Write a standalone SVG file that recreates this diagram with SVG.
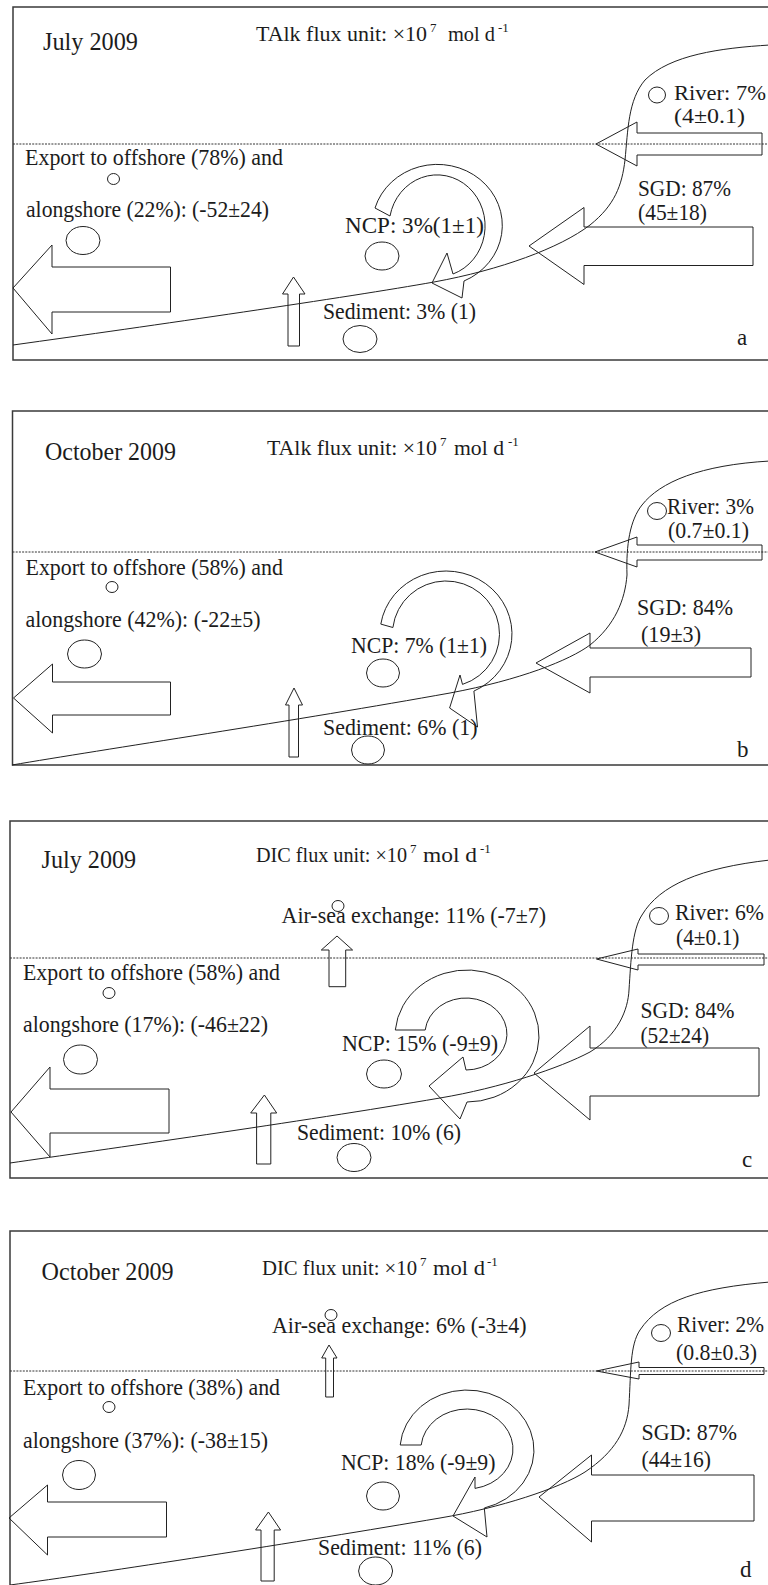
<svg xmlns="http://www.w3.org/2000/svg" width="768" height="1585" viewBox="0 0 768 1585">
<style>
.bg{fill:#ffffff}
.fr{fill:none;stroke:#3a3a3a;stroke-width:1.5}
.dl{fill:none;stroke:#333;stroke-width:1;stroke-dasharray:2 1.2}
.cv{fill:none;stroke:#222;stroke-width:1}
.sh{fill:none;stroke:#222;stroke-width:1}
text{font-family:"Liberation Serif","Times New Roman",serif;fill:#1c1c1c}
.t{font-size:23px}
.ts{font-size:21px}
.dt{font-size:25px}
.ti{font-size:22px}
.tj{font-size:20px}
.sp{font-size:13px}
</style>
<rect class="bg" x="0" y="0" width="768" height="1585"/>

<!-- ================= Panel a ================= -->
<g id="panel-a">
  <rect class="fr" x="13" y="7" width="790" height="353"/>
  <g id="a-connectors">
    <path class="dl" d="M13,144 H768"/>
    <path class="cv" d="M13,345 C150,326 350,297 434,282 C500,270 560,248 590,225 C615,205 622,185 625,160 C628,130 628,100 645,80 C670,55 720,48 770,45"/>
  </g>
  <g id="a-header">
    <text class="dt" x="43" y="50" textLength="95" lengthAdjust="spacingAndGlyphs">July 2009</text>
    <text class="ti" x="256" y="41" textLength="171" lengthAdjust="spacingAndGlyphs">TAlk flux unit: ×10</text>
    <text class="sp" x="430" y="32">7</text>
    <text class="ti" x="448" y="41" textLength="47" lengthAdjust="spacingAndGlyphs">mol d</text>
    <text class="sp" x="498" y="32">-1</text>
  </g>
  <g id="a-river">
    <ellipse class="sh" cx="657" cy="95" rx="8.5" ry="8"/>
    <text class="ts" x="674" y="100" textLength="92" lengthAdjust="spacingAndGlyphs">River: 7%</text>
    <text class="ts" x="674" y="123" textLength="71" lengthAdjust="spacingAndGlyphs">(4±0.1)</text>
    <polygon class="sh" points="596,144 637,122 637,133 762,133 762,155 637,155 637,166"/>
  </g>
  <g id="a-sgd">
    <text class="t" x="638" y="196" textLength="93" lengthAdjust="spacingAndGlyphs">SGD: 87%</text>
    <text class="t" x="638" y="220" textLength="69" lengthAdjust="spacingAndGlyphs">(45±18)</text>
    <polygon class="sh" points="529,246 584,207.5 584,227 753,227 753,265.5 584,265.5 584,284.5"/>
  </g>
  <g id="a-export">
    <text class="t" x="25" y="165" textLength="258" lengthAdjust="spacingAndGlyphs">Export to offshore (78%) and</text>
    <ellipse class="sh" cx="113.5" cy="179" rx="6" ry="5.5"/>
    <text class="t" x="26" y="217" textLength="243" lengthAdjust="spacingAndGlyphs">alongshore (22%): (-52±24)</text>
    <ellipse class="sh" cx="83" cy="240.5" rx="17" ry="14"/>
    <polygon class="sh" points="13,288 52,245 52,267 170.5,267 170.5,312 52,312 52,334"/>
  </g>
  <g id="a-ncp">
    <path class="sh" d="M375,208 A65,61 0 1 1 464,281 L462,298 L432,283 L447,253 L453,274 A48,51 0 1 0 390,216 Z"/>
    <text class="t" x="345" y="233" textLength="139" lengthAdjust="spacingAndGlyphs">NCP: 3%(1±1)</text>
    <ellipse class="sh" cx="382" cy="256" rx="17" ry="14"/>
  </g>
  <g id="a-sediment">
    <polygon class="sh" points="293.5,277 305,294 299.5,294 299.5,346 288,346 288,294 282.5,294"/>
    <text class="t" x="323" y="319" textLength="153" lengthAdjust="spacingAndGlyphs">Sediment: 3% (1)</text>
    <ellipse class="sh" cx="360" cy="339" rx="17" ry="13.5"/>
  </g>
  <text class="t" x="737" y="345">a</text>
</g>

<!-- ================= Panel b ================= -->
<g id="panel-b">
  <rect class="fr" x="12.5" y="411" width="790" height="354"/>
  <g id="b-connectors">
    <path class="dl" d="M12.5,552 H768"/>
    <path class="cv" d="M12,765 C100,750 300,720 450,693 C520,680 570,660 590,645 C615,625 625,600 627,575 C626,545 630,520 642,505 C660,482 700,465 770,461"/>
  </g>
  <g id="b-header">
    <text class="dt" x="45" y="460" textLength="131" lengthAdjust="spacingAndGlyphs">October 2009</text>
    <text class="ti" x="267" y="455" textLength="170" lengthAdjust="spacingAndGlyphs">TAlk flux unit: ×10</text>
    <text class="sp" x="440" y="446">7</text>
    <text class="ti" x="454" y="455" textLength="50" lengthAdjust="spacingAndGlyphs">mol d</text>
    <text class="sp" x="508" y="446">-1</text>
  </g>
  <g id="b-river">
    <ellipse class="sh" cx="657" cy="511" rx="9.5" ry="8.5"/>
    <text class="t" x="667" y="514" textLength="87" lengthAdjust="spacingAndGlyphs">River: 3%</text>
    <text class="t" x="668" y="538" textLength="81" lengthAdjust="spacingAndGlyphs">(0.7±0.1)</text>
    <polygon class="sh" points="595,552 637,537 637,545 762,545 762,560 637,560 637,567"/>
  </g>
  <g id="b-sgd">
    <text class="t" x="637" y="615" textLength="96" lengthAdjust="spacingAndGlyphs">SGD: 84%</text>
    <text class="t" x="641" y="642" textLength="60" lengthAdjust="spacingAndGlyphs">(19±3)</text>
    <polygon class="sh" points="536,663 590,633 590,648 751,648 751,677 590,677 590,693"/>
  </g>
  <g id="b-export">
    <text class="t" x="25.5" y="575" textLength="257.5" lengthAdjust="spacingAndGlyphs">Export to offshore (58%) and</text>
    <ellipse class="sh" cx="112" cy="587" rx="6" ry="5.5"/>
    <text class="t" x="25.5" y="627" textLength="235" lengthAdjust="spacingAndGlyphs">alongshore (42%): (-22±5)</text>
    <ellipse class="sh" cx="84.5" cy="654" rx="17" ry="14"/>
    <polygon class="sh" points="13.5,698 52.5,664 52.5,682 170.5,682 170.5,715 52.5,715 52.5,733"/>
  </g>
  <g id="b-ncp">
    <path class="sh" d="M380.8,624.1 A66,63 0 1 1 473.9,691.1 L477.5,727 L449.6,708 L460,675 L462.5,684.4 A53.5,53 0 1 0 392.9,627.5 Z"/>
    <text class="t" x="351" y="653" textLength="136" lengthAdjust="spacingAndGlyphs">NCP: 7% (1±1)</text>
    <ellipse class="sh" cx="383" cy="673" rx="16.5" ry="14"/>
  </g>
  <g id="b-sediment">
    <polygon class="sh" points="294,688 302.5,705 298.5,705 298.5,757 289,757 289,705 285.5,705"/>
    <text class="t" x="323" y="735" textLength="154.5" lengthAdjust="spacingAndGlyphs">Sediment: 6% (1)</text>
    <ellipse class="sh" cx="368" cy="750" rx="16.5" ry="14"/>
  </g>
  <text class="t" x="737" y="757">b</text>
</g>

<!-- ================= Panel c ================= -->
<g id="panel-c">
  <rect class="fr" x="10" y="821" width="790" height="357"/>
  <g id="c-connectors">
    <path class="dl" d="M10,958 H768"/>
    <path class="cv" d="M10,1163 C100,1150 300,1122 440,1098 C500,1088 560,1068 590,1052 C618,1035 628,1010 629,990 C631,960 632,930 642,915 C660,885 700,868 770,860"/>
  </g>
  <g id="c-header">
    <text class="dt" x="41.6" y="868" textLength="94.5" lengthAdjust="spacingAndGlyphs">July 2009</text>
    <text class="tj" x="256" y="862" textLength="151" lengthAdjust="spacingAndGlyphs">DIC flux unit: ×10</text>
    <text class="sp" x="410" y="853">7</text>
    <text class="tj" x="423" y="862" textLength="54" lengthAdjust="spacingAndGlyphs">mol d</text>
    <text class="sp" x="480" y="853">-1</text>
  </g>
  <g id="c-airsea">
    <ellipse class="sh" cx="338" cy="906" rx="6" ry="5.5"/>
    <text class="t" x="281.6" y="923" textLength="264.5" lengthAdjust="spacingAndGlyphs">Air-sea exchange: 11% (-7±7)</text>
    <polygon class="sh" points="337,936 352.6,950 345.7,950 345.7,986.7 329,986.7 329,950 321.3,950"/>
  </g>
  <g id="c-river">
    <ellipse class="sh" cx="659" cy="916" rx="9.5" ry="8.5"/>
    <text class="t" x="675" y="920" textLength="89" lengthAdjust="spacingAndGlyphs">River: 6%</text>
    <text class="t" x="676" y="945" textLength="63.5" lengthAdjust="spacingAndGlyphs">(4±0.1)</text>
    <polygon class="sh" points="596.5,959 638,949 638,954 764,954 764,965 638,965 638,970"/>
  </g>
  <g id="c-sgd">
    <text class="t" x="640.5" y="1018" textLength="94" lengthAdjust="spacingAndGlyphs">SGD: 84%</text>
    <text class="t" x="640.5" y="1043" textLength="68.5" lengthAdjust="spacingAndGlyphs">(52±24)</text>
    <polygon class="sh" points="534,1073 590,1026 590,1048 759,1048 759,1096 590,1096 590,1120"/>
  </g>
  <g id="c-export">
    <text class="t" x="23" y="980" textLength="257" lengthAdjust="spacingAndGlyphs">Export to offshore (58%) and</text>
    <ellipse class="sh" cx="109" cy="993" rx="6" ry="5.5"/>
    <text class="t" x="23" y="1032" textLength="245" lengthAdjust="spacingAndGlyphs">alongshore (17%): (-46±22)</text>
    <ellipse class="sh" cx="80.5" cy="1059.5" rx="17" ry="14.5"/>
    <polygon class="sh" points="11,1112 50,1067 50,1089 169,1089 169,1133 50,1133 50,1157"/>
  </g>
  <g id="c-ncp">
    <path class="sh" d="M395.3,1030 A72,66 0 1 1 467,1102 L460,1119 L429,1086 L463,1057 L466,1070 A41,36 0 1 0 425.2,1030 Z"/>
    <text class="t" x="342" y="1051" textLength="156" lengthAdjust="spacingAndGlyphs">NCP: 15% (-9±9)</text>
    <ellipse class="sh" cx="384" cy="1074" rx="17.5" ry="14"/>
  </g>
  <g id="c-sediment">
    <polygon class="sh" points="264.4,1095 276.7,1113 270.8,1113 270.8,1164 256.6,1164 256.6,1113 250.7,1113"/>
    <text class="t" x="297" y="1140" textLength="164" lengthAdjust="spacingAndGlyphs">Sediment: 10% (6)</text>
    <ellipse class="sh" cx="354" cy="1157.5" rx="17" ry="14"/>
  </g>
  <text class="t" x="742" y="1167">c</text>
</g>

<!-- ================= Panel d ================= -->
<g id="panel-d">
  <rect class="fr" x="10" y="1231" width="790" height="400"/>
  <g id="d-connectors">
    <path class="dl" d="M10,1371 H768"/>
    <path class="cv" d="M10,1585 C100,1573 300,1542 440,1518 C500,1508 560,1488 585,1472 C615,1452 627,1430 629,1405 C631,1370 630,1345 640,1330 C660,1300 700,1288 770,1282"/>
  </g>
  <g id="d-header">
    <text class="dt" x="41.6" y="1280" textLength="132" lengthAdjust="spacingAndGlyphs">October 2009</text>
    <text class="tj" x="262" y="1275" textLength="155" lengthAdjust="spacingAndGlyphs">DIC flux unit: ×10</text>
    <text class="sp" x="420" y="1266">7</text>
    <text class="tj" x="433" y="1275" textLength="52" lengthAdjust="spacingAndGlyphs">mol d</text>
    <text class="sp" x="487" y="1266">-1</text>
  </g>
  <g id="d-airsea">
    <ellipse class="sh" cx="331" cy="1315" rx="6" ry="5.5"/>
    <text class="t" x="272" y="1333" textLength="254.5" lengthAdjust="spacingAndGlyphs">Air-sea exchange: 6% (-3±4)</text>
    <polygon class="sh" points="329,1345 337,1358 333.5,1358 333.5,1397 325.7,1397 325.7,1358 321.7,1358"/>
  </g>
  <g id="d-river">
    <ellipse class="sh" cx="661" cy="1333" rx="9.5" ry="8.5"/>
    <text class="t" x="677" y="1332" textLength="87" lengthAdjust="spacingAndGlyphs">River: 2%</text>
    <text class="t" x="676" y="1360" textLength="81" lengthAdjust="spacingAndGlyphs">(0.8±0.3)</text>
    <polygon class="sh" points="596.5,1371 639,1362 639,1367.5 764,1367.5 764,1374.5 639,1374.5 639,1379"/>
  </g>
  <g id="d-sgd">
    <text class="t" x="641.5" y="1440" textLength="95.5" lengthAdjust="spacingAndGlyphs">SGD: 87%</text>
    <text class="t" x="641.5" y="1467" textLength="69.5" lengthAdjust="spacingAndGlyphs">(44±16)</text>
    <polygon class="sh" points="539,1497 591.5,1455 591.5,1475 754,1475 754,1521 591.5,1521 591.5,1542"/>
  </g>
  <g id="d-export">
    <text class="t" x="23" y="1395" textLength="257" lengthAdjust="spacingAndGlyphs">Export to offshore (38%) and</text>
    <ellipse class="sh" cx="109" cy="1407" rx="6" ry="5.5"/>
    <text class="t" x="23" y="1448" textLength="245" lengthAdjust="spacingAndGlyphs">alongshore (37%): (-38±15)</text>
    <ellipse class="sh" cx="79" cy="1475" rx="16.5" ry="14.5"/>
    <polygon class="sh" points="9,1518 47.5,1485 47.5,1502 166.5,1502 166.5,1537 47.5,1537 47.5,1555"/>
  </g>
  <g id="d-ncp">
    <path class="sh" d="M400.2,1445 A67,60 0 1 1 484.3,1508 L487,1537 L453,1516 L475,1477 L475,1488.4 A46,40 0 1 0 421.2,1445 Z"/>
    <text class="t" x="341" y="1470" textLength="154.5" lengthAdjust="spacingAndGlyphs">NCP: 18% (-9±9)</text>
    <ellipse class="sh" cx="383" cy="1496" rx="16.5" ry="14"/>
  </g>
  <g id="d-sediment">
    <polygon class="sh" points="268.4,1512 280.6,1530 274.2,1530 274.2,1581 261,1581 261,1530 255.6,1530"/>
    <text class="t" x="318" y="1555" textLength="164" lengthAdjust="spacingAndGlyphs">Sediment: 11% (6)</text>
    <ellipse class="sh" cx="375.6" cy="1571" rx="17" ry="14"/>
  </g>
  <text class="t" x="740" y="1577">d</text>
</g>
</svg>
